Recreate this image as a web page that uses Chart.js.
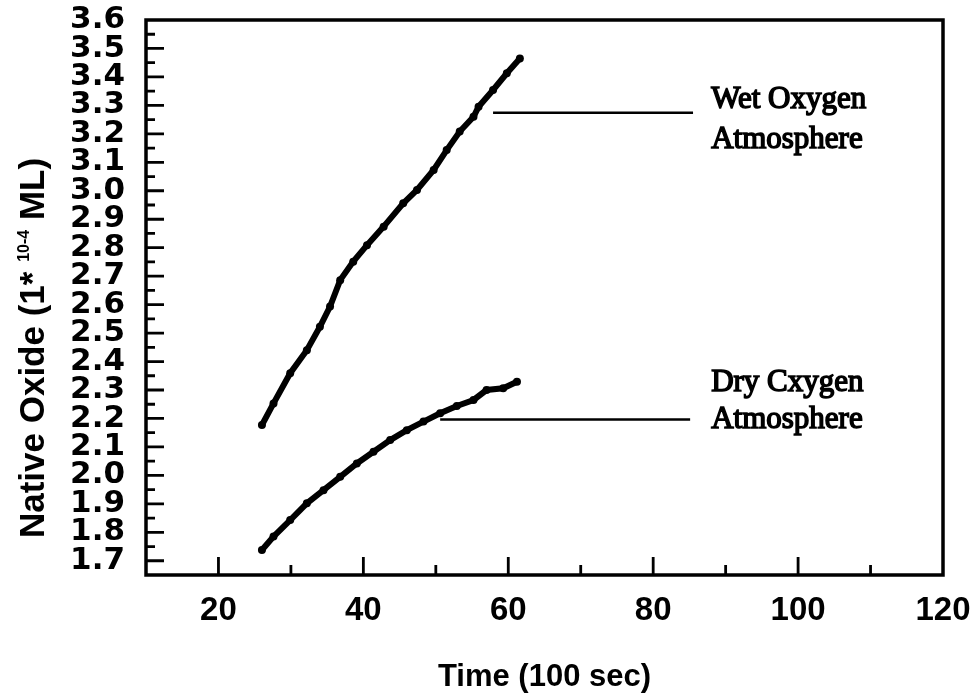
<!DOCTYPE html>
<html>
<head>
<meta charset="utf-8">
<title>Native Oxide</title>
<script src="https://cdn.jsdelivr.net/npm/chart.js@4.4.1/dist/chart.umd.min.js"></script>
<style>
    html, body { margin: 0; padding: 0; background: #fff; }
    #wrap { width: 975px; height: 698px; }
</style>
</head>
<body>
<div id="wrap"><canvas id="grafico" width="975" height="698"></canvas></div>
<script>
// ================= DATA =================
const wetTime  = [26.0, 27.6, 29.9, 32.2, 34.0, 35.4, 36.8, 38.6, 40.5, 42.8, 45.5, 47.4, 49.7, 51.5, 53.3, 55.2, 55.9, 57.9, 59.8, 61.6];
const wetOxide = [2.177, 2.253, 2.359, 2.440, 2.522, 2.593, 2.686, 2.751, 2.809, 2.874, 2.956, 3.003, 3.073, 3.143, 3.208, 3.260, 3.295, 3.354, 3.413, 3.465];

const dryTime  = [26.0, 27.6, 29.9, 32.2, 34.5, 36.8, 39.1, 41.4, 43.7, 46.0, 48.3, 50.6, 52.9, 55.2, 57.0, 59.3, 61.2];
const dryOxide = [1.738, 1.785, 1.843, 1.902, 1.948, 1.995, 2.042, 2.083, 2.124, 2.159, 2.189, 2.218, 2.244, 2.265, 2.300, 2.306, 2.329];

// leader lines from the curves to their labels
const wetLeaderTime  = [57.9, 85.5];
const wetLeaderLevel = [3.274, 3.274];
const dryLeaderTime  = [50.6, 85.1];
const dryLeaderLevel = [2.196, 2.196];

const xTickLabels = [20, 40, 60, 80, 100, 120];
const yTickLabels = ["1.7","1.8","1.9","2.0","2.1","2.2","2.3","2.4","2.5","2.6","2.7","2.8","2.9","3.0","3.1","3.2","3.3","3.4","3.5","3.6"];

const etiquetas = [
    { texto: "Wet Oxygen", x: 88.0, y: 3.319 },
    { texto: "Atmosphere", x: 88.0, y: 3.178 },
    { texto: "Dry Cxygen", x: 88.0, y: 2.325 },
    { texto: "Atmosphere", x: 88.0, y: 2.195 }
];

const puntos = (xs, ys) => xs.map((x, i) => ({ x, y: ys[i] }));

// ================= PLUGINS =================
// frame plus inward tick marks
const marco = {
    id: "marco",
    afterDatasetsDraw(chart) {
        const { ctx, chartArea: a, scales: { x, y } } = chart;
        ctx.save();
        ctx.strokeStyle = "#000";
        ctx.lineCap = "butt";

        ctx.lineWidth = 2.8;
        ctx.beginPath();
        y.ticks.forEach(t => {
            const py = y.getPixelForValue(t.value);
            if (py < a.top + 2 || py > a.bottom - 2) return;
            const largo = Math.round(t.value * 100) % 10 === 0 ? 18 : 9;
            ctx.moveTo(a.left, py);
            ctx.lineTo(a.left + largo, py);
        });
        x.ticks.forEach(t => {
            const px = x.getPixelForValue(t.value);
            if (px < a.left + 2 || px > a.right - 2) return;
            const largo = t.value % 20 === 0 ? 18 : 10;
            ctx.moveTo(px, a.bottom);
            ctx.lineTo(px, a.bottom - largo);
        });
        ctx.stroke();

        ctx.lineWidth = 3.5;
        ctx.strokeRect(a.left, a.top, a.right - a.left, a.bottom - a.top);

        // curve labels
        ctx.fillStyle = "#000";
        ctx.font = "31px 'Liberation Serif', serif";
        ctx.textBaseline = "middle";
        ctx.textAlign = "left";
        ctx.lineWidth = 1.5;
        etiquetas.forEach(e => {
            const px = x.getPixelForValue(e.x);
            const py = y.getPixelForValue(e.y);
            ctx.fillText(e.texto, px, py);
            ctx.strokeText(e.texto, px, py);
        });
        ctx.restore();
    }
};

// rotated y title with superscript exponent
const tituloY = {
    id: "tituloY",
    afterDraw(chart) {
        const { ctx } = chart;
        const base = "bold 35px 'Liberation Sans', Arial, sans-serif";
        const sup = "bold 16px 'Liberation Sans', Arial, sans-serif";
        const partes = [
            { t: "Native Oxide (1* ", f: base, dy: 0 },
            { t: "10-4", f: sup, dy: -15 },
            { t: " ML)", f: base, dy: 0 }
        ];
        ctx.save();
        let total = 0;
        partes.forEach(p => { ctx.font = p.f; p.w = ctx.measureText(p.t).width; total += p.w; });
        ctx.translate(32, 348);
        ctx.rotate(-Math.PI / 2);
        ctx.fillStyle = "#000";
        ctx.textBaseline = "alphabetic";
        let cx = -total / 2;
        partes.forEach(p => {
            ctx.font = p.f;
            ctx.fillText(p.t, cx, 12 + p.dy);
            cx += p.w;
        });
        ctx.restore();
    }
};

// ================= CHART =================
const curva = (label, data) => ({
    label,
    data,
    showLine: true,
    borderColor: "#000",
    backgroundColor: "#000",
    borderWidth: 6,
    pointRadius: 4,
    pointBorderWidth: 0,
    tension: 0
});

const guia = (label, data) => ({
    label,
    data,
    showLine: true,
    borderColor: "#000",
    borderWidth: 2.5,
    pointRadius: 0
});

new Chart(document.getElementById("grafico"), {
    type: "scatter",
    data: {
        datasets: [
            curva("Wet Oxygen Atmosphere", puntos(wetTime, wetOxide)),
            curva("Dry Oxygen Atmosphere", puntos(dryTime, dryOxide)),
            guia("wet leader", puntos(wetLeaderTime, wetLeaderLevel)),
            guia("dry leader", puntos(dryLeaderTime, dryLeaderLevel))
        ]
    },
    options: {
        responsive: false,
        animation: false,
        devicePixelRatio: 1,
        layout: { padding: { top: 20, right: 32, left: 0, bottom: 0 } },
        plugins: {
            legend: { display: false },
            tooltip: { enabled: false }
        },
        scales: {
            x: {
                type: "linear",
                min: 10,
                max: 120,
                afterFit: s => { s.height = 123; s.paddingLeft = 0; s.paddingRight = 0; },
                grid: { display: false, drawTicks: false },
                border: { display: false },
                ticks: {
                    stepSize: 10,
                    autoSkip: false,
                    maxRotation: 0,
                    padding: 16,
                    color: "#000",
                    font: { family: "'Liberation Sans', Arial, sans-serif", size: 33, weight: "bold" },
                    callback: v => xTickLabels.includes(v) ? String(v) : ""
                },
                title: {
                    display: true,
                    text: "Time (100 sec)",
                    color: "#000",
                    padding: { top: 0, bottom: 2 },
                    font: { family: "'Liberation Sans', Arial, sans-serif", size: 31, weight: "bold" }
                }
            },
            y: {
                type: "linear",
                min: 1.65,
                max: 3.6,
                afterFit: s => { s.width = 146; s.paddingTop = 0; s.paddingBottom = 0; },
                grid: { display: false, drawTicks: false },
                border: { display: false },
                ticks: {
                    stepSize: 0.05,
                    autoSkip: false,
                    padding: 21,
                    color: "#000",
                    font: { family: "'DejaVu Sans', sans-serif", size: 31, weight: "bold" },
                    callback: v => {
                        const s = Number(v).toFixed(1);
                        return Math.round(v * 100) % 10 === 0 && yTickLabels.includes(s) ? s : "";
                    }
                }
            }
        }
    },
    plugins: [marco, tituloY]
});
</script>
</body>
</html>
